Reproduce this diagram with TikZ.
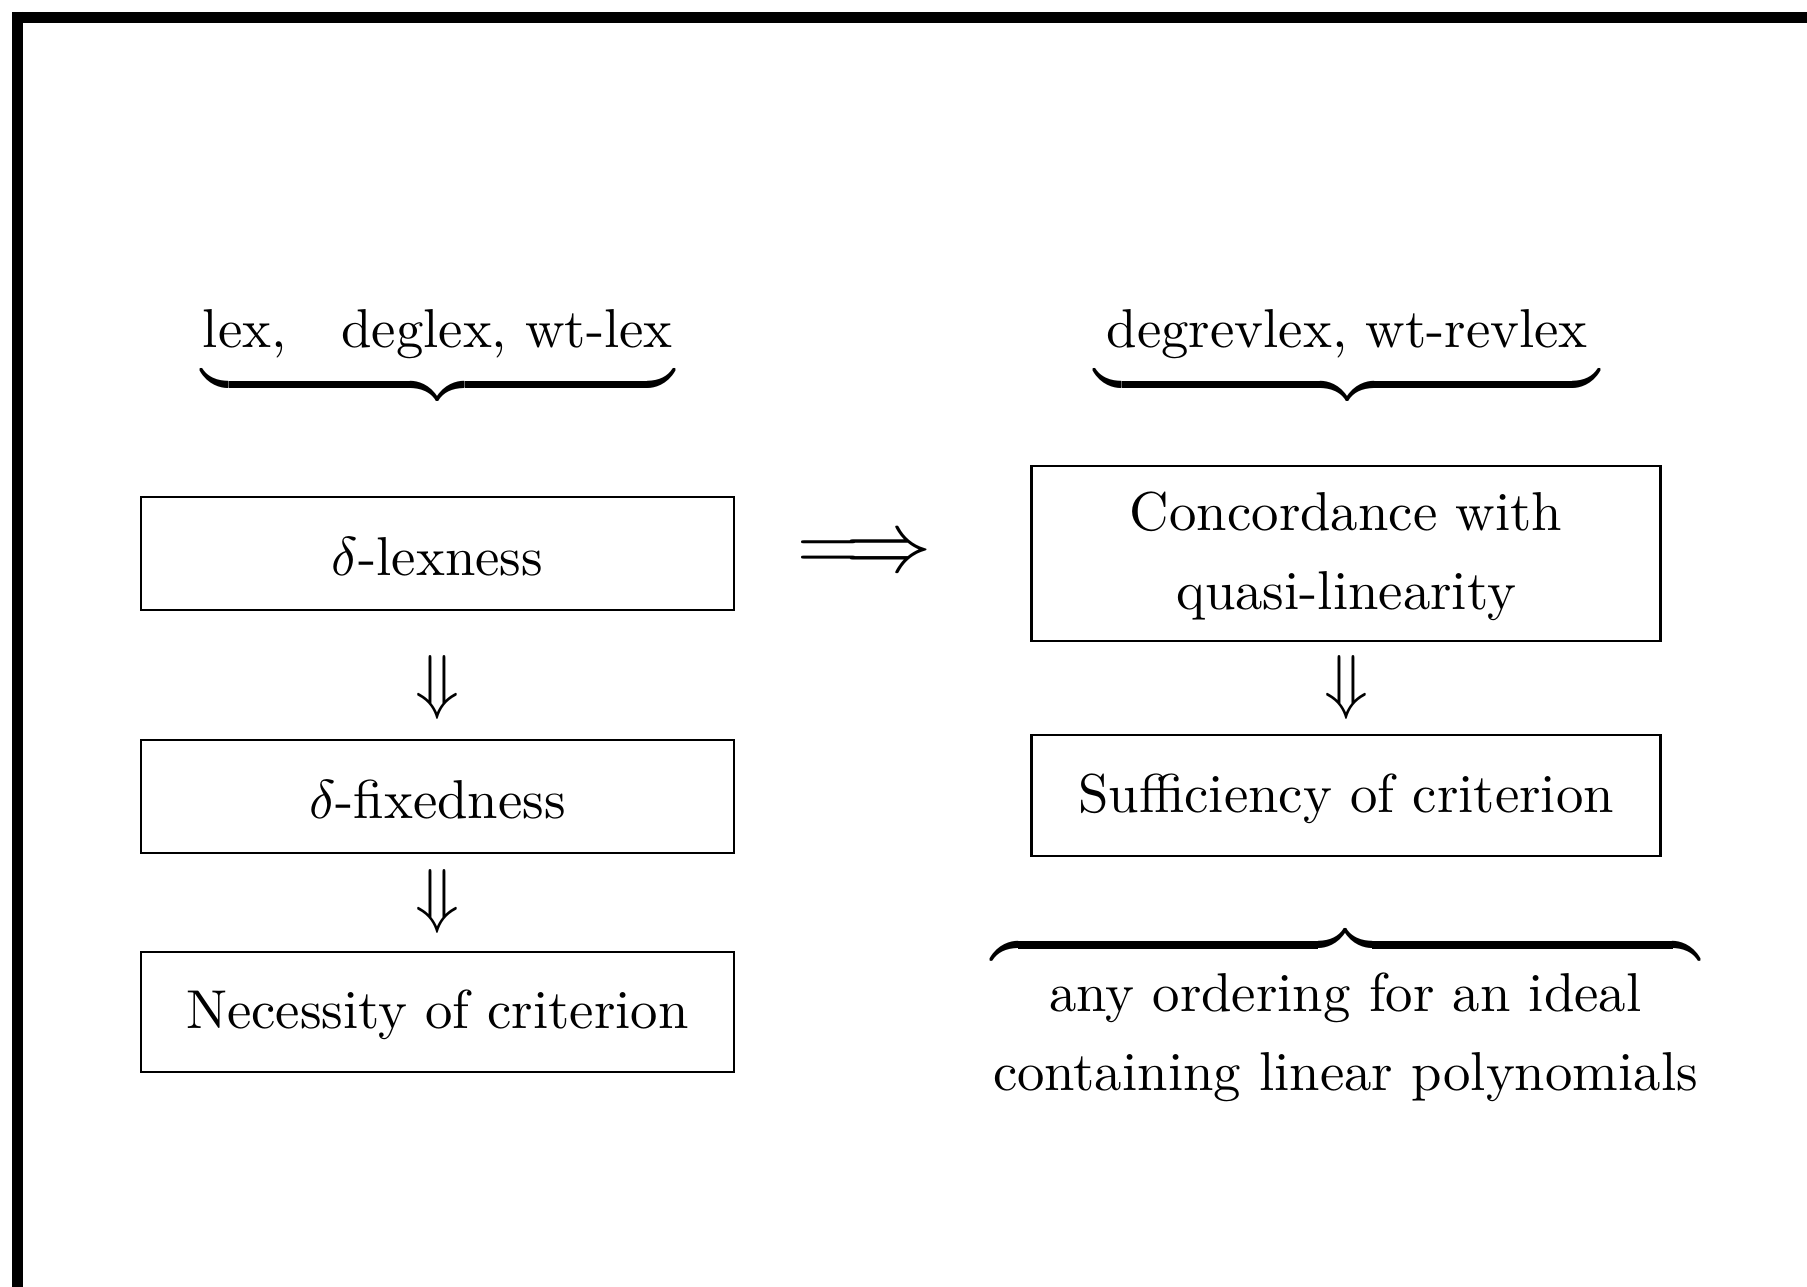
\documentclass[tikz,border=0pt,11pt]{standalone}
\usepackage{amsmath}
\newcommand{\mystrut}{\rule{0pt}{9pt}}
\newcommand{\txtsize}{\fontsize{10.95}{15.8}\selectfont}
\begin{document}
\begin{tikzpicture}[x=0.2pt,y=-0.2pt,
  every node/.style={inner sep=0pt, font=\txtsize},
  box/.style={draw, line width=0.45pt, align=center},
  leftbox/.style={box, minimum width=118.7pt},
  rightbox/.style={box, minimum width=125.8pt},
  bigsym/.style={font=\fontsize{15.7}{19}\selectfont},
  bracenode/.style={font=\fontsize{12}{14}\selectfont},
  frameline/.style={line width=2.2pt}
]
\useasboundingbox (0,0) rectangle (1807,1287);
% clipped outer frame
\draw[frameline] (12,17.5) -- (1807,17.5);
\draw[frameline] (17.5,12) -- (17.5,1287);

% boxes
\node[leftbox, minimum height=22.6pt] (lexb) at (437.4,553.2) {\mystrut$\delta$-lexness};
\node[leftbox, minimum height=22.6pt] (fixb) at (437.4,796.3) {\mystrut$\delta$-fixedness};
\node[leftbox, minimum height=24pt] (necb) at (437.4,1011.8) {\mystrut Necessity of criterion};
\node[rightbox, minimum height=35pt] (conc) at (1346,553.2) {\mystrut Concordance with\\quasi-linearity};
\node[rightbox, minimum height=24.2pt] (suff) at (1346,795.7) {\mystrut Sufficiency of criterion};

% implication symbols
\node[bigsym] (dl1) at (437.9,687.4) {$\Downarrow$};
\node[bigsym] (dl2) at (437.9,901.2) {$\Downarrow$};
\node[bigsym] (dr1) at (1346,687.4) {$\Downarrow$};
\node[font=\fontsize{16.2}{20}\selectfont] (impl) at (865,555.5) {$\Longrightarrow$};

% braces with labels
\node[bracenode, anchor=base] (tl) at (437.9,348)
  {$\underbrace{\hbox to 94.5pt{\txtsize\hss lex,\quad deglex, wt-lex\hss\rule[-3.6pt]{0pt}{3.6pt}}}$};
\node[bracenode, anchor=base] (tr) at (1347.2,348)
  {$\underbrace{\hbox to 101pt{\txtsize\hss degrevlex, wt-revlex\hss\rule[-3.6pt]{0pt}{3.6pt}}}$};
\node[bracenode, anchor=base] (bb) at (1345.4,975)
  {$\overbrace{\hbox to 141.7pt{\rule{0pt}{2.3pt}}}$};
\node[anchor=north, align=center] (bt) at (1345.4,971.5)
  {any ordering for an ideal\\containing linear polynomials};
\end{tikzpicture}
\end{document}
